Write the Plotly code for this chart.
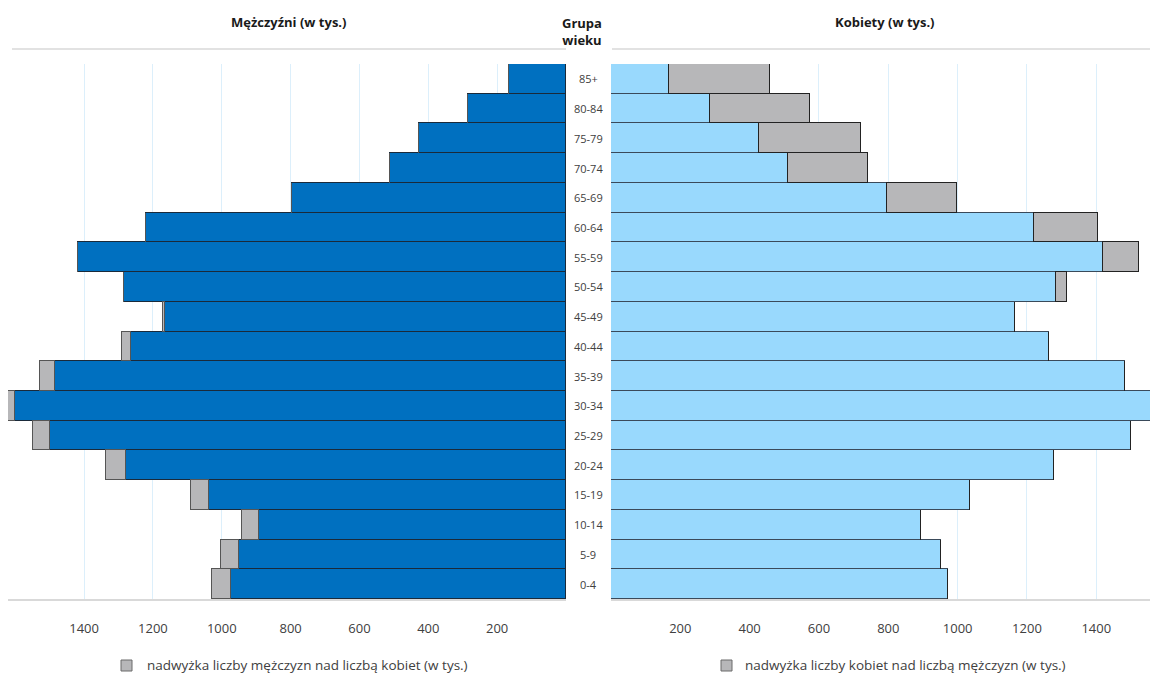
import plotly.graph_objects as go

ages = ["0-4", "5-9", "10-14", "15-19", "20-24", "25-29", "30-34", "35-39", "40-44",
        "45-49", "50-54", "55-59", "60-64", "65-69", "70-74", "75-79", "80-84", "85+"]
men = [1029, 1003, 942, 1090, 1337, 1549, 1622, 1529, 1291,
       1172, 1285, 1419, 1221, 797, 512, 427, 285, 166]
women = [972, 951, 893, 1037, 1279, 1499, 1600, 1484, 1264,
         1165, 1316, 1524, 1405, 999, 742, 721, 574, 459]
tick_vals = [200, 400, 600, 800, 1000, 1200, 1400]
tick_text = ["200", "400", "600", "800", "1000", "1200", "1400"]

common = [min(m, w) for m, w in zip(men, women)]
men_excess = [max(m - w, 0) for m, w in zip(men, women)]
women_excess = [max(w - m, 0) for m, w in zip(men, women)]

W, H = 1150, 675
DARK = "#0070C0"
LIGHT = "#99D9FD"
GRAY = "#B7B7B9"
TXT = "#404040"
FONT = "Open Sans"

fig = go.Figure()
fig.add_trace(go.Bar(y=ages, x=common, orientation="h", marker=dict(color=DARK, line=dict(color="#1a2a3a", width=1)),
                     xaxis="x", yaxis="y", showlegend=False))
fig.add_trace(go.Bar(y=ages, x=men_excess, orientation="h", marker=dict(color=GRAY, line=dict(color="#555555", width=1)),
                     xaxis="x", yaxis="y", showlegend=False))
fig.add_trace(go.Bar(y=ages, x=common, orientation="h", marker=dict(color=LIGHT, line=dict(color="#3a4a5a", width=1)),
                     xaxis="x2", yaxis="y2", showlegend=False))
fig.add_trace(go.Bar(y=ages, x=women_excess, orientation="h", marker=dict(color=GRAY, line=dict(color="#222222", width=1)),
                     xaxis="x2", yaxis="y2", showlegend=False))

ybot = 1 - 599 / H
ytop = 1 - 64 / H
axis_common = dict(tickvals=tick_vals, ticktext=tick_text, showgrid=True, gridcolor="#DCEFFB", gridwidth=1,
                   zeroline=False, showline=True, linecolor="#D9D9D9", linewidth=1.5, ticks="",
                   ticklabelstandoff=17, tickfont=dict(family=FONT, size=13, color=TXT), fixedrange=True)
fig.update_layout(
    width=W, height=H, margin=dict(l=0, r=0, t=0, b=0),
    paper_bgcolor="white", plot_bgcolor="white",
    barmode="stack", bargap=0, hovermode=False,
    xaxis=dict(domain=[8 / W, 566 / W], range=[1621, 0], anchor="y", **axis_common),
    xaxis2=dict(domain=[611 / W, 1.0], range=[0, 1555], anchor="y2", **axis_common),
    yaxis=dict(domain=[ybot, ytop], anchor="x", showticklabels=False, showgrid=False, zeroline=False,
               categoryorder="array", categoryarray=ages, range=[-0.5, 17.5], fixedrange=True),
    yaxis2=dict(domain=[ybot, ytop], anchor="x2", showticklabels=False, showgrid=False, zeroline=False,
                categoryorder="array", categoryarray=ages, range=[-0.5, 17.5], fixedrange=True),
)

ann = []
for a in ages:
    ann.append(dict(x=588 / W, xref="paper", y=a, yref="y", text=a, showarrow=False,
                    font=dict(family=FONT, size=11, color=TXT), xanchor="center", yanchor="middle"))
title_font = dict(family=FONT, size=13, color="#1a1a1a")
ann.append(dict(x=288 / W, y=1 - 22 / H, xref="paper", yref="paper", text="<b>Mężczyźni (w tys.)</b>",
                showarrow=False, font=title_font, xanchor="center", yanchor="middle"))
ann.append(dict(x=885 / W, y=1 - 22 / H, xref="paper", yref="paper", text="<b>Kobiety (w tys.)</b>",
                showarrow=False, font=title_font, xanchor="center", yanchor="middle"))
ann.append(dict(x=582 / W, y=1 - 31 / H, xref="paper", yref="paper", text="<b>Grupa<br>wieku</b>",
                showarrow=False, font=title_font, xanchor="center", yanchor="middle"))
leg_font = dict(family=FONT, size=13.5, color=TXT)
ann.append(dict(x=145 / W, y=1 - 665 / H, xref="paper", yref="paper", xanchor="left", yanchor="middle",
                text="nadwyżka liczby mężczyzn nad liczbą kobiet (w tys.)",
                showarrow=False, font=leg_font))
ann.append(dict(x=743 / W, y=1 - 665 / H, xref="paper", yref="paper", xanchor="left", yanchor="middle",
                text="nadwyżka liczby kobiet nad liczbą mężczyzn (w tys.)",
                showarrow=False, font=leg_font))
fig.update_layout(annotations=ann)

shapes = [
    dict(type="line", xref="paper", yref="paper", x0=12 / W, x1=566 / W, y0=1 - 49 / H, y1=1 - 49 / H,
         line=dict(color="#D9D9D9", width=1.5)),
    dict(type="line", xref="paper", yref="paper", x0=612 / W, x1=1.0, y0=1 - 49 / H, y1=1 - 49 / H,
         line=dict(color="#D9D9D9", width=1.5)),
    dict(type="rect", xref="paper", yref="paper", x0=121 / W, x1=132 / W, y0=1 - 671 / H, y1=1 - 660 / H,
         fillcolor=GRAY, line=dict(color="#6a6a6a", width=1)),
    dict(type="rect", xref="paper", yref="paper", x0=721 / W, x1=732 / W, y0=1 - 671 / H, y1=1 - 660 / H,
         fillcolor=GRAY, line=dict(color="#6a6a6a", width=1)),
]
fig.update_layout(shapes=shapes)

fig.write_html("out.html", config={"displayModeBar": False},
               post_script="document.body.style.margin='0';document.documentElement.style.overflow='hidden';document.body.style.overflow='hidden';")
